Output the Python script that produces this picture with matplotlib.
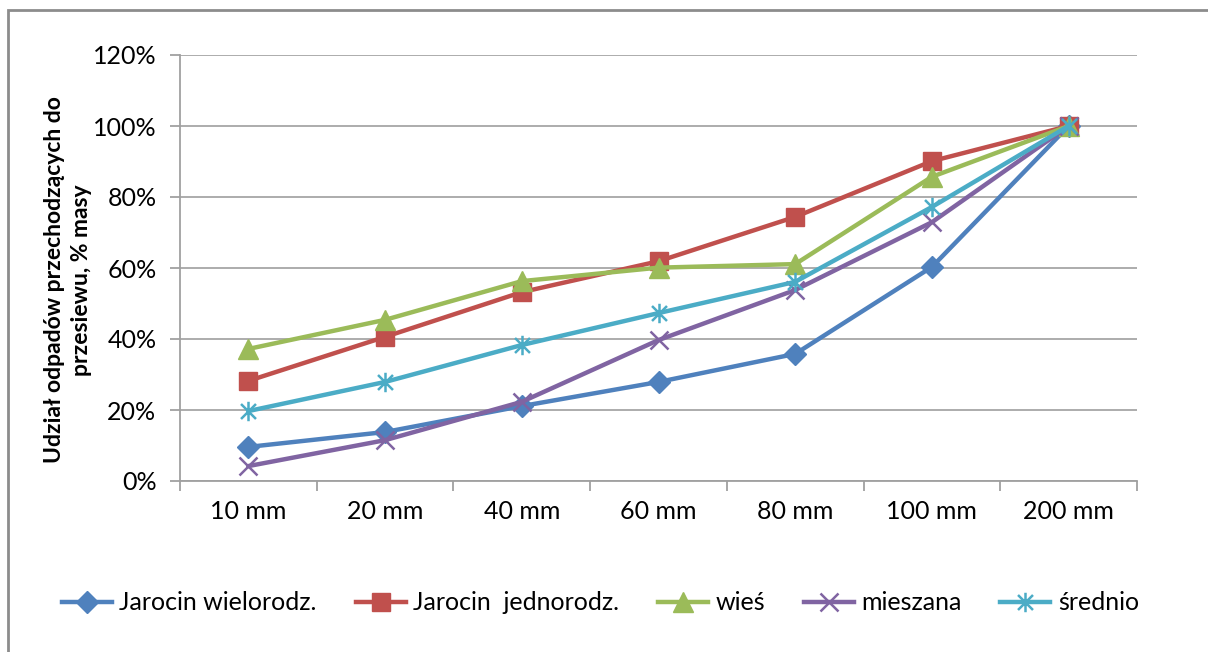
import matplotlib
matplotlib.use("Agg")
import matplotlib.pyplot as plt
from matplotlib.path import Path
from matplotlib.patches import Rectangle
from matplotlib.ticker import PercentFormatter, FixedLocator

# sieve sizes and cumulative passing share (% of mass)
categories = ["10 mm", "20 mm", "40 mm", "60 mm", "80 mm", "100 mm", "200 mm"]
jarocin_wielo = [9.6, 13.8, 21.1, 27.9, 35.8, 60.3, 100]
jarocin_jedno = [28.2, 40.6, 53.2, 61.9, 74.4, 90.1, 100]
wies = [37.2, 45.4, 56.3, 60.1, 61.1, 85.7, 100]
mieszana = [4.2, 11.5, 22.3, 39.7, 53.8, 72.9, 100]
srednio = [19.7, 27.9, 38.3, 47.3, 56.1, 77.2, 100]
series_names = ["Jarocin wielorodz.", "Jarocin  jednorodz.", "wieś", "mieszana", "średnio"]
ylabel = "Udział odpadów przechodzących do\nprzesiewu, % masy"

plt.rcParams["font.family"] = ["Lato", "DejaVu Sans"]

# Excel-style asterisk: an x with a vertical bar
star = Path([(-1, -1), (1, 1), (-1, 1), (1, -1), (0, -1.3), (0, 1.3)],
            [Path.MOVETO, Path.LINETO, Path.MOVETO, Path.LINETO, Path.MOVETO, Path.LINETO])

styles = [
    dict(color="#4F81BD", marker="D", ms=11),
    dict(color="#C0504D", marker="s", ms=13),
    dict(color="#9BBB59", marker="^", ms=14),
    dict(color="#8064A2", marker="x", ms=13, mew=1.8),
    dict(color="#4BACC6", marker=star, ms=14, mew=1.8),
]

fig = plt.figure(figsize=(12.08, 6.52), dpi=100)
ax = fig.add_axes([180 / 1208, 1 - 481 / 652, 957 / 1208, 426 / 652])

x = list(range(len(categories)))
for vals, name, st in zip([jarocin_wielo, jarocin_jedno, wies, mieszana, srednio],
                          series_names, styles):
    ax.plot(x, vals, lw=3.2, label=name, **st)

ax.set_xlim(-0.5, len(categories) - 0.5)
ax.set_ylim(0, 120)
ax.set_yticks(range(0, 121, 20))
ax.yaxis.set_major_formatter(PercentFormatter(100, decimals=0))
ax.set_xticks(x)
ax.set_xticklabels(categories)
ax.xaxis.set_minor_locator(FixedLocator([i - 0.5 for i in range(len(categories) + 1)]))
ax.tick_params(axis="x", which="major", length=0, pad=14, labelsize=18)
ax.tick_params(axis="x", which="minor", length=7, width=1.3, color="#A0A0A0", direction="out")
ax.tick_params(axis="y", length=7, width=1.3, color="#A0A0A0", pad=10, labelsize=18)

ax.grid(axis="y", color="#A6A6A6", lw=1.3)
ax.set_axisbelow(True)
for side in ["top", "right"]:
    ax.spines[side].set_visible(False)
for side in ["left", "bottom"]:
    ax.spines[side].set_color("#A0A0A0")
    ax.spines[side].set_linewidth(1.3)

fig.text(68 / 1208, 1 - 280 / 652, ylabel, rotation=90, ha="center", va="center",
         multialignment="center", fontsize=16.5, fontweight="bold", linespacing=1.3)

fig.legend(loc="center", bbox_to_anchor=(0.497, 1 - 603 / 652), ncol=5, frameon=False,
           fontsize=18, handlelength=2.0, handletextpad=0.3, columnspacing=1.55)

# outer chart frame (cut off at right and bottom)
fig.patches.append(Rectangle((8 / 1208, -0.05), 1.2, 1 - 10 / 652 + 0.05,
                             transform=fig.transFigure, fill=False,
                             edgecolor="#8C8C8C", lw=2))

fig.savefig("out.png", dpi=100)
